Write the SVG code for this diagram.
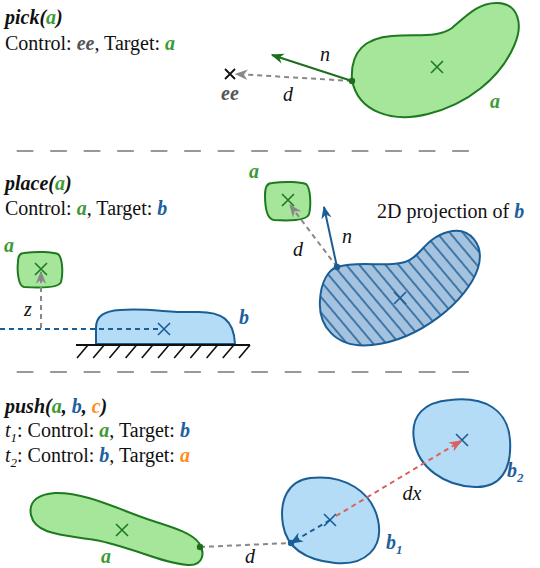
<svg xmlns="http://www.w3.org/2000/svg" width="540" height="568" viewBox="0 0 540 568">
<style>
text{font-family:"Liberation Serif","Times New Roman",serif;font-size:20px;fill:#111}
.bi{font-weight:bold;font-style:italic}
.it{font-style:italic}
.g{fill:#3d9a35}
.bl{fill:#1f5fa0}
.or{fill:#ff8c1a}
.gr{fill:#555}
.gblob{fill:#a5e69a;stroke:#1f7a1f;stroke-width:2}
.bblob{fill:#b5dcf6;stroke:#1b5e96;stroke-width:2}
.hblob{fill:url(#hatch);stroke:#1b5e96;stroke-width:2}
.xg{stroke:#1f7a1f;stroke-width:1.6;fill:none}
.xb{stroke:#1b5e96;stroke-width:1.6;fill:none}
.xk{stroke:#111;stroke-width:1.8;fill:none}
.dg{stroke:#888;stroke-width:2;stroke-dasharray:5 4;fill:none}
.db{stroke:#1b5e96;stroke-width:2;stroke-dasharray:5 4;fill:none}
.dr{stroke:#d9625c;stroke-width:2;stroke-dasharray:5 4;fill:none}
.sep{stroke:#777;stroke-width:1.3;stroke-dasharray:16.7 16.8}
</style>
<defs>
<pattern id="hatch" patternUnits="userSpaceOnUse" width="10" height="10" patternTransform="rotate(50)">
<rect width="10" height="10" fill="#a5c3de"/>
<line x1="0" y1="5" x2="10" y2="5" stroke="#1b5e96" stroke-width="1.5"/>
</pattern>
<marker id="ahG" viewBox="0 0 10 10" refX="9" refY="5" markerWidth="13" markerHeight="13" markerUnits="userSpaceOnUse" orient="auto"><path d="M0,1 L10,5 L0,9 L3,5 Z" fill="#1e6e1e"/></marker>
<marker id="ahK" viewBox="0 0 10 10" refX="9" refY="5" markerWidth="13" markerHeight="13" markerUnits="userSpaceOnUse" orient="auto"><path d="M0,1 L10,5 L0,9 L3,5 Z" fill="#888"/></marker>
<marker id="ahB" viewBox="0 0 10 10" refX="9" refY="5" markerWidth="13" markerHeight="13" markerUnits="userSpaceOnUse" orient="auto"><path d="M0,1 L10,5 L0,9 L3,5 Z" fill="#1b5e96"/></marker>
<marker id="ahR" viewBox="0 0 10 10" refX="9" refY="5" markerWidth="13" markerHeight="13" markerUnits="userSpaceOnUse" orient="auto"><path d="M0,1 L10,5 L0,9 L3,5 Z" fill="#d9625c"/></marker>
</defs>

<!-- separators -->
<line class="sep" x1="16.7" y1="151" x2="475" y2="151"/>
<line class="sep" x1="16.7" y1="372" x2="475" y2="372"/>

<!-- headings -->
<g id="pick-title">
<text x="5" y="24" class="bi">pick(<tspan class="g">a</tspan>)</text>
<text x="5" y="50">Control: <tspan class="bi gr">ee</tspan>, Target: <tspan class="bi g">a</tspan></text>
</g>
<g id="place-title">
<text x="5" y="190" class="bi">place(<tspan class="g">a</tspan>)</text>
<text x="5" y="215">Control: <tspan class="bi g">a</tspan>, Target: <tspan class="bi bl">b</tspan></text>
</g>
<g id="push-title">
<text x="5" y="413" class="bi">push(<tspan class="g">a</tspan>, <tspan class="bl">b</tspan>, <tspan class="or">c</tspan>)</text>
<text x="5" y="437"><tspan class="it">t</tspan><tspan class="it" font-size="13" dy="5">1</tspan><tspan dy="-5">: Control: </tspan><tspan class="bi g">a</tspan>, Target: <tspan class="bi bl">b</tspan></text>
<text x="5" y="462"><tspan class="it">t</tspan><tspan class="it" font-size="13" dy="5">2</tspan><tspan dy="-5">: Control: </tspan><tspan class="bi bl">b</tspan>, Target: <tspan class="bi or">a</tspan></text>
</g>

<!-- pick nodes -->
<g id="pick-a">
<path class="gblob" d="M352,80 C350,52 365,38 392,36 C418,34 438,38 452,28 C468,14 480,2 498,3 C518,4 524,24 514,46 C500,78 468,104 428,114 C392,123 358,112 352,80 Z"/>
<path class="xg" d="M431,61 L443,73 M443,61 L431,73"/>
<text x="495" y="108" class="bi g" text-anchor="middle">a</text>
</g>
<g id="pick-ee">
<path class="xk" d="M225,69 L235,79 M235,69 L225,79"/>
<text x="230" y="100" class="bi gr" text-anchor="middle">ee</text>
</g>

<!-- place nodes -->
<g id="place-a-side">
<path class="gblob" d="M24,253 C38,251 52,252 58,254 C63,258 63,275 61,282 C59,288 40,288 24,287 C18,286 17,270 18,262 C18,256 20,253 24,253 Z"/>
<path class="xg" d="M35,263 L47,275 M47,263 L35,275"/>
<text x="9" y="252" class="bi g" text-anchor="middle">a</text>
</g>
<g id="place-b-side">
<path class="bblob" d="M96,344 L96,328 C96,316 104,311 120,310 C150,308 170,313 195,312 C222,311 234,320 235,344 Z"/>
<text x="244" y="324" class="bi bl" text-anchor="middle">b</text>
</g>
<g id="ground">
<line x1="76" y1="345" x2="250" y2="345" stroke="#111" stroke-width="2"/>
<path stroke="#111" stroke-width="1.6" fill="none" d="M88,345 l-11,13 M104.2,345 l-11,13 M120.4,345 l-11,13 M136.6,345 l-11,13 M152.8,345 l-11,13 M169,345 l-11,13 M185.2,345 l-11,13 M201.4,345 l-11,13 M217.6,345 l-11,13 M233.8,345 l-11,13 M250,345 l-11,13"/>
</g>
<g id="place-a-top">
<path class="gblob" d="M272,183 C286,181 300,182 306,184 C311,188 311,207 309,214 C307,221 290,221 274,220 C266,219 265,204 265,195 C265,187 267,183 272,183 Z"/>
<path class="xg" d="M282,194 L294,206 M294,194 L282,206"/>
<text x="254" y="178" class="bi g" text-anchor="middle">a</text>
</g>
<g id="place-b-proj">
<path class="hblob" d="M337,267 C360,260 385,268 405,262 C420,258 425,238 448,232 C470,226 485,245 478,268 C468,300 420,340 372,345 C335,349 318,325 320,300 C321,282 328,270 337,267 Z"/>
<path class="xb" d="M394,292 L406,304 M406,292 L394,304"/>
<text x="377" y="218">2D projection of <tspan class="bi bl">b</tspan></text>
</g>

<!-- push nodes -->
<g id="push-a">
<path class="gblob" d="M55,493 C85,492 120,510 150,520 C175,528 192,533 199,543 C205,552 204,566 188,565 C160,563 130,546 95,540 C65,535 35,535 31,515 C28,500 40,494 55,493 Z"/>
<path class="xg" d="M116,524 L128,536 M128,524 L116,536"/>
<text x="106" y="563" class="bi g" text-anchor="middle">a</text>
</g>
<g id="push-b1">
<path class="bblob" d="M310,478 C345,474 372,492 378,520 C384,548 365,566 335,563 C305,560 287,548 283,525 C279,500 288,481 310,478 Z"/>
<path class="xb" d="M324,514 L336,526 M336,514 L324,526"/>
<text x="386" y="549" class="bi bl">b<tspan font-size="13" dy="5">1</tspan></text>
</g>
<g id="push-b2">
<path class="bblob" d="M450,400 C485,396 508,410 510,440 C512,470 500,488 475,487 C445,486 418,468 414,440 C410,415 425,402 450,400 Z"/>
<path class="xb" d="M456,434 L468,446 M468,434 L456,446"/>
<text x="507" y="477" class="bi bl">b<tspan font-size="13" dy="5">2</tspan></text>
</g>

<!-- connectors -->
<g id="connectors">
<line class="dg" x1="352" y1="81" x2="236" y2="74" marker-end="url(#ahK)"/>
<line x1="352" y1="81" x2="272" y2="55" stroke="#1e6e1e" stroke-width="2" marker-end="url(#ahG)"/>
<circle cx="352" cy="81" r="3.2" fill="#1e6e1e"/>
<text x="325" y="61" class="it" text-anchor="middle">n</text>
<text x="288" y="101" class="it" text-anchor="middle">d</text>

<line class="db" x1="0" y1="329" x2="160" y2="329"/>
<path class="xb" d="M158,323 L170,335 M170,323 L158,335"/>
<line class="dg" x1="41" y1="328" x2="41" y2="272" marker-end="url(#ahK)"/>
<text x="28" y="316" class="it" text-anchor="middle">z</text>

<line class="dg" x1="337" y1="267" x2="290" y2="205" marker-end="url(#ahK)"/>
<line x1="337" y1="267" x2="324" y2="207" stroke="#1b5e96" stroke-width="2" marker-end="url(#ahB)"/>
<circle cx="337" cy="267" r="3.2" fill="#1b5e96"/>
<text x="298" y="256" class="it" text-anchor="middle">d</text>
<text x="347" y="243" class="it" text-anchor="middle">n</text>

<line class="dg" x1="200" y1="547" x2="290" y2="543"/>
<circle cx="200" cy="547" r="3.2" fill="#1e6e1e"/>
<line class="db" x1="330" y1="520" x2="291" y2="543" marker-end="url(#ahB)"/>
<circle cx="291" cy="543" r="3.2" fill="#1b5e96"/>
<line class="dr" x1="336" y1="516" x2="461" y2="441" marker-end="url(#ahR)"/>
<text x="250" y="563" class="it" text-anchor="middle">d</text>
<text x="412" y="500" class="it" text-anchor="middle">dx</text>
</g>
</svg>
